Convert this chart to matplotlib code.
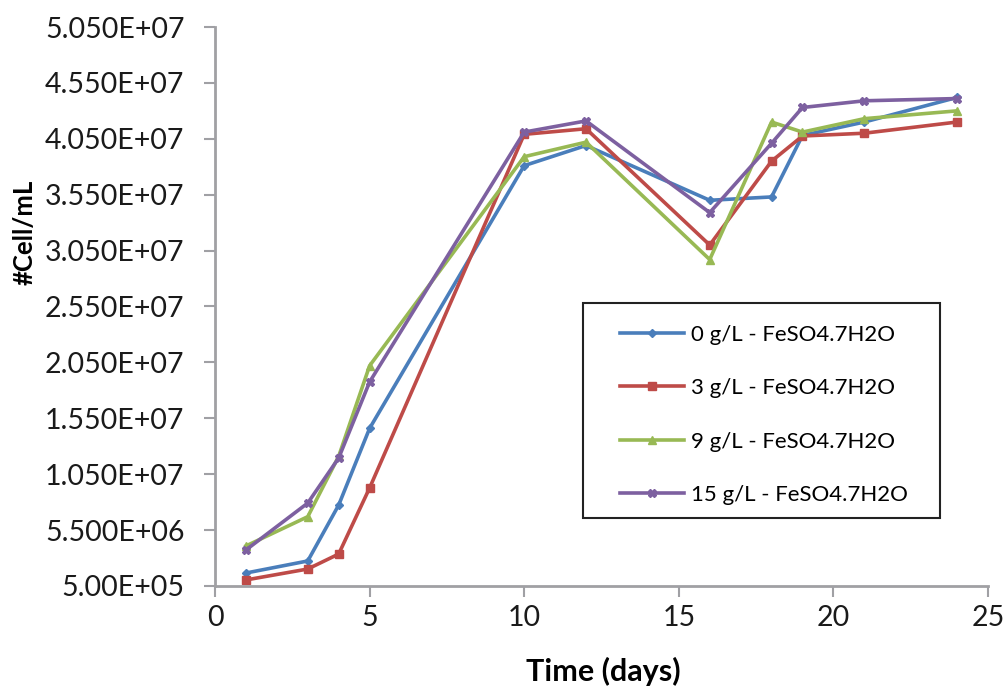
import numpy as np
import matplotlib.pyplot as plt
from matplotlib.ticker import FixedLocator
from matplotlib.patches import Rectangle

plt.rcParams['font.family'] = ['Lato', 'DejaVu Sans']

days = [1, 3, 4, 5, 10, 12, 16, 18, 19, 21, 24]
fe0 = [1.66e6, 2.74e6, 7.74e6, 14.6e6, 38.1e6, 39.9e6, 35.0e6, 35.3e6, 40.8e6, 42.0e6, 44.2e6]
fe3 = [1.04e6, 2.02e6, 3.36e6, 9.27e6, 40.9e6, 41.4e6, 31.0e6, 38.5e6, 40.75e6, 41.0e6, 42.0e6]
fe9 = [4.08e6, 6.7e6, 12.1e6, 20.2e6, 38.9e6, 40.2e6, 29.7e6, 42.0e6, 41.1e6, 42.3e6, 43.0e6]
fe15 = [3.72e6, 7.92e6, 11.95e6, 18.75e6, 41.1e6, 42.1e6, 33.9e6, 40.1e6, 43.3e6, 43.9e6, 44.1e6]

labels = ['0 g/L - FeSO4.7H2O', '3 g/L - FeSO4.7H2O',
          '9 g/L - FeSO4.7H2O', '15 g/L - FeSO4.7H2O']
colors = ['#4a7ebb', '#be4b48', '#98b954', '#7d60a0']
markers = ['D', 's', '^', 'X']
msizes = [4, 6, 6, 6]

ytick_vals = [5e5 + 5e6 * i for i in range(11)]
ytick_lbls = ['5.00E+05', '5.500E+06', '1.050E+07', '1.550E+07', '2.050E+07',
              '2.550E+07', '3.050E+07', '3.550E+07', '4.050E+07', '4.550E+07',
              '5.050E+07']

fig = plt.figure(figsize=(10.04, 6.86), dpi=100)
ax = fig.add_axes([215/1004, 1 - 586/686, (988-215)/1004, (586-27)/686])

series = [fe0, fe3, fe9, fe15]
for s, lab, c, m, ms in zip(series, labels, colors, markers, msizes):
    ax.plot(days, s, color=c, lw=2.6, marker=m, ms=ms, label=lab)

ax.set_xlim(0, 25)
ax.set_ylim(5e5, 5.05e7)
ax.set_xticks([0, 5, 10, 15, 20, 25])
ax.yaxis.set_major_locator(FixedLocator(ytick_vals))
ax.set_yticklabels(ytick_lbls)

for sp in ['top', 'right']:
    ax.spines[sp].set_visible(False)
for sp in ['left', 'bottom']:
    ax.spines[sp].set_color('#a0a0a4')
    ax.spines[sp].set_linewidth(2)
ax.tick_params(axis='both', colors='#a0a0a4', width=1.5, length=8,
               labelsize=20.5, labelcolor='#1a1a1a')
ax.tick_params(axis='y', pad=14)
ax.tick_params(axis='x', pad=6)

ax.set_xlabel('Time (days)', fontsize=22, fontweight='bold', va='center')
ax.xaxis.set_label_coords(0.502, -0.152)
ax.set_ylabel('#Cell/mL', fontsize=18.5, fontweight='bold', va='center')
ax.yaxis.set_label_coords(-0.246, 0.633)

# legend box drawn separately so the inner padding matches
box = Rectangle((0.476, 0.1216), 0.462, 0.3846, transform=ax.transAxes,
                facecolor='white', edgecolor='#222222', lw=1.5, zorder=4)
ax.add_patch(box)
leg = ax.legend(loc='upper left', bbox_to_anchor=(0.4994, 0.5009),
                fontsize=16, frameon=False,
                borderpad=0.85, labelspacing=1.5, handlelength=2.9,
                handletextpad=0.3, borderaxespad=0)
leg.set_zorder(5)

fig.savefig('out.png', dpi=100)
